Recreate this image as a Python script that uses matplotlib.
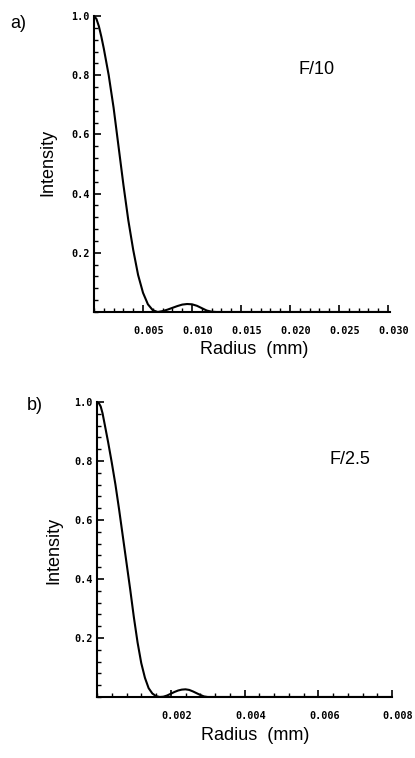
import numpy as np
import matplotlib
matplotlib.use("Agg")
import matplotlib.pyplot as plt
from matplotlib.ticker import MultipleLocator, FixedLocator
from matplotlib.transforms import ScaledTranslation

# panel a) F/10, radius in mm
radius_a = [0, 0.00025, 0.0005, 0.00075, 0.001, 0.0015, 0.002, 0.0025, 0.003, 0.0035, 0.004, 0.0045,
            0.005, 0.0055, 0.006, 0.0065, 0.007, 0.0075, 0.008, 0.0085, 0.009, 0.0095,
            0.010, 0.0105, 0.011, 0.0115, 0.012, 0.0125, 0.030]
intensity_a = [1.0, 0.99, 0.965, 0.93, 0.89, 0.80, 0.69, 0.56, 0.43, 0.31, 0.21, 0.125,
               0.065, 0.026, 0.006, 0.0, 0.003, 0.008, 0.014, 0.020, 0.025, 0.027,
               0.026, 0.021, 0.013, 0.005, 0.001, 0.0, 0.0]

# panel b) F/2.5
radius_b = [0, 0.00005, 0.0001, 0.00015, 0.0002, 0.0003, 0.0004, 0.0005, 0.0006, 0.0007, 0.0008, 0.0009,
            0.001, 0.0011, 0.0012, 0.0013, 0.0014, 0.0015, 0.0016, 0.0017, 0.0018, 0.0019,
            0.002, 0.0021, 0.0022, 0.0023, 0.0024, 0.0025, 0.0026, 0.0027, 0.0028, 0.0029,
            0.003, 0.008]
intensity_b = [1.0, 0.996, 0.985, 0.962, 0.93, 0.865, 0.795, 0.72, 0.635, 0.545, 0.455, 0.365,
               0.27, 0.185, 0.115, 0.065, 0.03, 0.012, 0.003, 0.0, 0.001, 0.005,
               0.011, 0.017, 0.022, 0.025, 0.026, 0.024, 0.019, 0.013, 0.007, 0.002,
               0.0, 0.0]

y_ticks = [0.2, 0.4, 0.6, 0.8, 1.0]
y_ticklabels = ["0.2", "0.4", "0.6", "0.8", "1.0"]
xticks_a = [0.005, 0.010, 0.015, 0.020, 0.025, 0.030]
xticks_b = [0.002, 0.004, 0.006, 0.008]

W, H = 415, 758
fig = plt.figure(figsize=(W / 100, H / 100), dpi=100)

sans = ["Liberation Sans", "DejaVu Sans"]
tickfont = dict(family="DejaVu Sans Mono", weight="bold", size=7.3)


def px(x, y):
    return x / W, 1 - y / H


def setup(ax, r, inten, xmax, xticks, minor, fmt):
    ax.plot(r, inten, color="black", lw=1.5, solid_joinstyle="round")
    ax.set_xlim(0, xmax)
    ax.set_ylim(0, 1.0)
    for s in ["top", "right"]:
        ax.spines[s].set_visible(False)
    for s in ["left", "bottom"]:
        ax.spines[s].set_linewidth(1.5)
    ax.xaxis.set_major_locator(FixedLocator(xticks))
    ax.xaxis.set_minor_locator(MultipleLocator(minor))
    ax.set_xticklabels([fmt % v for v in xticks], **tickfont)
    ax.yaxis.set_major_locator(FixedLocator(y_ticks))
    ax.yaxis.set_minor_locator(MultipleLocator(0.04))
    ax.set_yticklabels(y_ticklabels, **tickfont)
    ax.tick_params(which="major", direction="in", length=5, width=1.2)
    ax.tick_params(which="minor", direction="in", length=3, width=1.0)
    ax.tick_params(axis="x", pad=10)
    ax.tick_params(axis="y", pad=3)
    off = ScaledTranslation(6 / 100, 0, fig.dpi_scale_trans)
    for lab in ax.get_xticklabels():
        lab.set_transform(lab.get_transform() + off)


ax1 = fig.add_axes([94 / W, (H - 312) / H, 296 / W, 296 / H])
setup(ax1, radius_a, intensity_a, 0.0302, xticks_a, 0.001, "%.3f")

ax2 = fig.add_axes([97 / W, (H - 697) / H, 295 / W, 295 / H])
setup(ax2, radius_b, intensity_b, 0.008, xticks_b, 0.0004, "%.3f")

# labels
fig.text(*px(48, 162), "Intensity", rotation=90, ha="center", va="center", fontsize=13, family=sans)
fig.text(*px(254, 350), "Radius  (mm)", ha="center", va="center", fontsize=13, family=sans)
fig.text(*px(317, 70), "F/10", ha="center", va="center", fontsize=13, family=sans)
fig.text(*px(18, 23), "a)", ha="center", va="center", fontsize=13, family=sans)

fig.text(*px(54, 550), "Intensity", rotation=90, ha="center", va="center", fontsize=13, family=sans)
fig.text(*px(255, 736), "Radius  (mm)", ha="center", va="center", fontsize=13, family=sans)
fig.text(*px(350, 460), "F/2.5", ha="center", va="center", fontsize=13, family=sans)
fig.text(*px(35, 405), "b)", ha="center", va="center", fontsize=13, family=sans)

fig.savefig("out.png", dpi=100, facecolor="white")
